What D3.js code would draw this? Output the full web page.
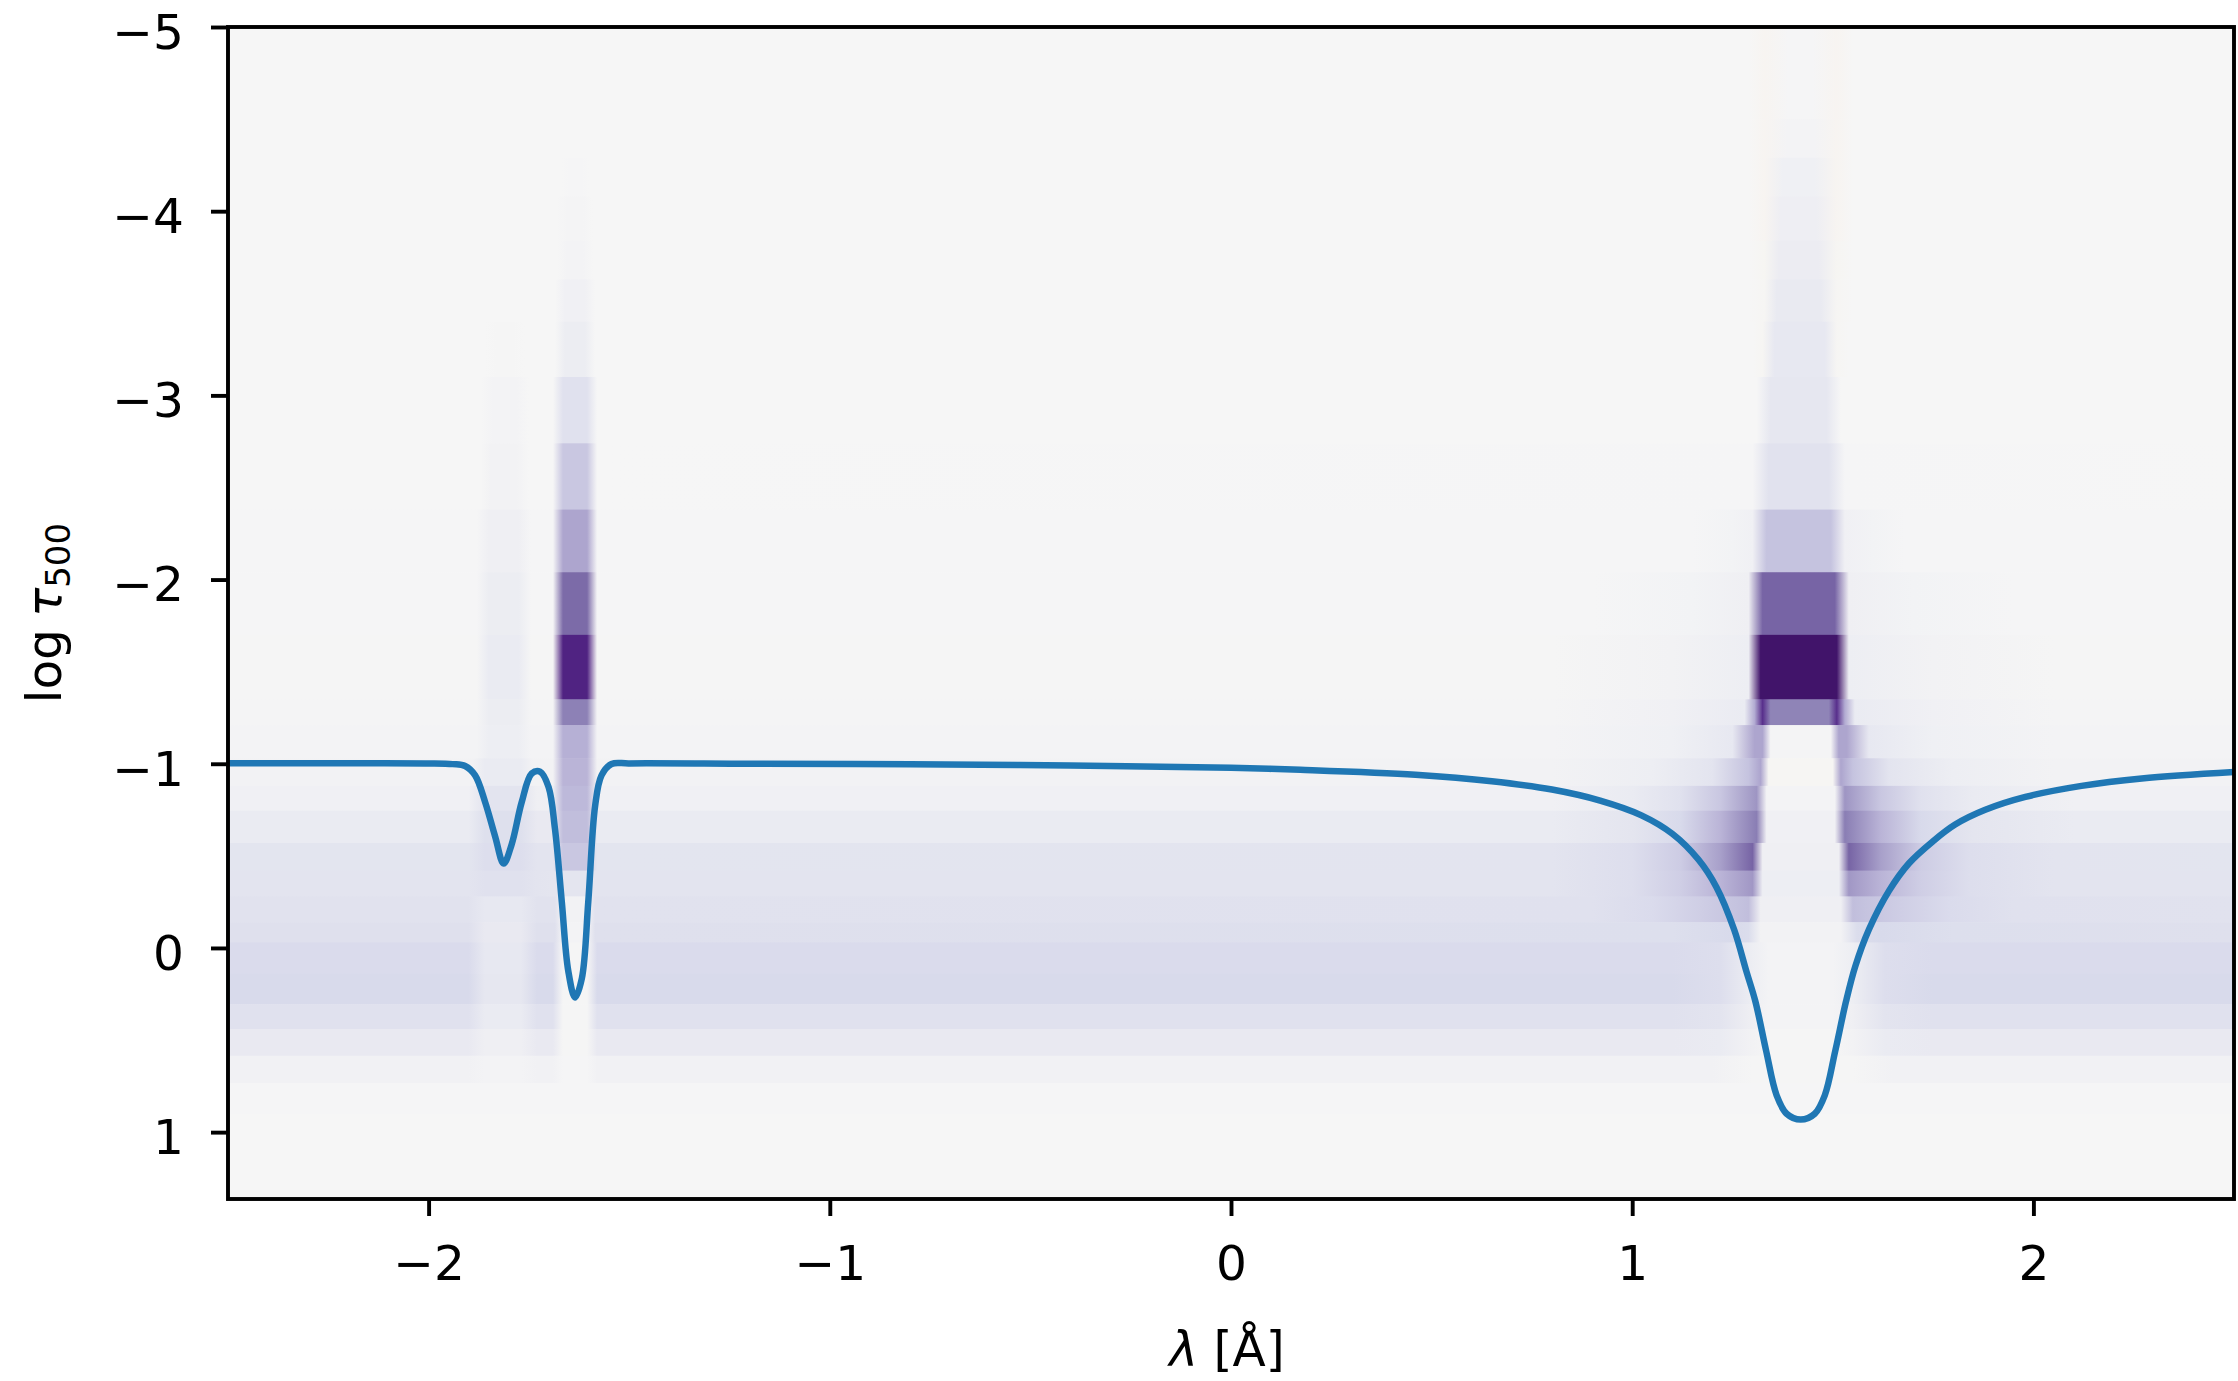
<!DOCTYPE html>
<html><head><meta charset="utf-8">
<script src="https://cdn.jsdelivr.net/npm/d3@7"></script>
<style>
html,body{margin:0;padding:0;background:#fff;}
svg{display:block;}
text{font-family:"DejaVu Sans",sans-serif;fill:#000;}
</style>
</head><body>
<svg id="chart" width="2238" height="1381"></svg>
<script>
// ---------------- data ----------------
const xTicks = [-2, -1, 0, 1, 2];
const yTicks = [-5, -4, -3, -2, -1, 0, 1];
const xDomain = [-2.5, 2.5];
const yDomain = [-5, 1.363];
// PuOr colour scheme, from value -1 (orange) to +1 (purple)
const puorColors = ["#7f3b08","#b35806","#e08214","#fdb863","#fee0b6","#f6f6f6","#d8daeb","#b2abd2","#8073ac","#542788","#2d004b"];

// depth rows (log tau500 edges, top to bottom)
const rowEdges = [-5.0, -4.50, -4.29, -4.08, -3.84, -3.63, -3.40, -3.10, -2.74, -2.38, -2.04, -1.70,
  -1.35, -1.21, -1.03, -0.88, -0.745, -0.57, -0.42, -0.28, -0.14, -0.03, 0.14, 0.305, 0.44, 0.585, 0.733, 0.90, 1.363];

// response values along wavelength for each row: [lambda, value]
const rowStops = [
  [[-2.5,0],[1.29,0],[1.33,-0.015],[1.39,0.008],[1.45,0.008],[1.51,-0.015],[1.55,0],[2.5,0]],
  [[-2.5,0],[1.29,0],[1.33,-0.015],[1.385,0.02],[1.455,0.02],[1.51,-0.015],[1.55,0],[2.5,0]],
  [[-2.5,0],[-1.67,0],[-1.65,0.008],[-1.62,0.008],[-1.60,0],[1.29,0],[1.33,-0.015],[1.375,0.045],[1.455,0.045],[1.51,-0.015],[1.55,0],[2.5,0]],
  [[-2.5,0],[-1.68,0],[-1.655,0.014],[-1.615,0.014],[-1.59,0],[1.29,0],[1.33,-0.015],[1.37,0.055],[1.46,0.055],[1.51,-0.015],[1.55,0],[2.5,0]],
  [[-2.5,0],[-1.68,0],[-1.655,0.022],[-1.615,0.022],[-1.59,0],[1.29,0],[1.33,-0.012],[1.365,0.07],[1.465,0.07],[1.51,-0.012],[1.55,0],[2.5,0]],
  [[-2.5,0],[-1.685,0],[-1.66,0.04],[-1.61,0.04],[-1.585,0],[1.29,0],[1.33,-0.01],[1.36,0.085],[1.47,0.085],[1.51,-0.01],[1.55,0],[2.5,0]],
  [[-2.5,0],[-1.86,0],[-1.83,0.01],[-1.79,0.01],[-1.76,0],[-1.685,0],[-1.66,0.065],[-1.61,0.065],[-1.585,0],[1.30,0],[1.325,-0.008],[1.355,0.1],[1.48,0.1],[1.51,-0.008],[1.54,0],[2.5,0]],
  [[-2.5,0],[-1.87,0],[-1.84,0.02],[-1.78,0.02],[-1.75,0],[-1.69,0],[-1.665,0.15],[-1.605,0.15],[-1.58,0],[1.31,0],[1.345,0.11],[1.485,0.11],[1.52,0],[2.5,0]],
  [[-2.5,0],[-1.87,0],[-1.845,0.03],[-1.78,0.03],[-1.75,0],[-1.69,0],[-1.665,0.28],[-1.605,0.28],[-1.58,0],[1.30,0.005],[1.34,0.14],[1.49,0.14],[1.53,0.005],[2.5,0]],
  [[-2.5,0.005],[-1.88,0.005],[-1.85,0.05],[-1.775,0.05],[-1.745,0.005],[-1.69,0.005],[-1.665,0.42],[-1.605,0.42],[-1.58,0.005],[1.15,0.005],[1.25,0.025],[1.30,0.04],[1.335,0.3],[1.495,0.3],[1.53,0.04],[1.6,0.025],[1.68,0.005],[2.5,0.005]],
  [[-2.5,0.008],[-1.88,0.008],[-1.85,0.065],[-1.775,0.065],[-1.745,0.008],[-1.69,0.008],[-1.665,0.62],[-1.605,0.62],[-1.58,0.008],[0.9,0.008],[1.15,0.025],[1.29,0.05],[1.325,0.64],[1.505,0.64],[1.54,0.05],[1.7,0.025],[1.95,0.008],[2.5,0.008]],
  [[-2.5,0.01],[-1.88,0.01],[-1.85,0.08],[-1.775,0.08],[-1.745,0.01],[-1.69,0.01],[-1.665,0.82],[-1.605,0.82],[-1.58,0.01],[0.8,0.01],[1.1,0.03],[1.29,0.06],[1.32,0.9],[1.51,0.9],[1.54,0.06],[1.75,0.03],[2.05,0.01],[2.5,0.01]],
  [[-2.5,0.015],[-1.88,0.015],[-1.85,0.065],[-1.775,0.065],[-1.745,0.015],[-1.69,0.015],[-1.665,0.55],[-1.605,0.55],[-1.58,0.015],[0.8,0.015],[1.1,0.04],[1.28,0.08],[1.305,0.4],[1.325,0.78],[1.345,0.54],[1.49,0.54],[1.51,0.78],[1.53,0.4],[1.555,0.08],[1.75,0.04],[2.05,0.015],[2.5,0.015]],
  [[-2.5,0.02],[-1.88,0.02],[-1.85,0.06],[-1.775,0.06],[-1.745,0.02],[-1.69,0.02],[-1.665,0.38],[-1.605,0.38],[-1.58,0.02],[0.8,0.02],[1.1,0.045],[1.25,0.1],[1.305,0.42],[1.325,0.42],[1.345,0.015],[1.495,0.015],[1.515,0.42],[1.535,0.42],[1.59,0.1],[1.75,0.045],[2.05,0.02],[2.5,0.02]],
  [[-2.5,0.03],[-1.89,0.03],[-1.86,0.08],[-1.77,0.08],[-1.74,0.03],[-1.69,0.03],[-1.665,0.36],[-1.605,0.36],[-1.58,0.03],[0.8,0.03],[1.05,0.06],[1.2,0.13],[1.29,0.3],[1.32,0.42],[1.34,-0.01],[1.5,-0.01],[1.52,0.42],[1.55,0.3],[1.64,0.13],[1.8,0.06],[2.05,0.03],[2.5,0.03]],
  [[-2.5,0.04],[-1.9,0.04],[-1.86,0.13],[-1.77,0.13],[-1.73,0.05],[-1.69,0.06],[-1.665,0.34],[-1.605,0.34],[-1.58,0.04],[0.8,0.04],[1.0,0.08],[1.12,0.15],[1.22,0.28],[1.31,0.48],[1.335,0.02],[1.505,0.02],[1.53,0.48],[1.62,0.28],[1.72,0.15],[1.85,0.08],[2.1,0.04],[2.5,0.04]],
  [[-2.5,0.08],[-1.9,0.08],[-1.86,0.16],[-1.77,0.16],[-1.73,0.09],[-1.69,0.09],[-1.665,0.32],[-1.605,0.32],[-1.58,0.08],[0.8,0.08],[1.0,0.12],[1.12,0.2],[1.22,0.36],[1.31,0.56],[1.335,0.04],[1.505,0.04],[1.53,0.56],[1.62,0.36],[1.72,0.2],[1.85,0.12],[2.1,0.08],[2.5,0.08]],
  [[-2.5,0.125],[-1.9,0.125],[-1.86,0.17],[-1.77,0.17],[-1.73,0.13],[-1.69,0.13],[-1.665,0.28],[-1.605,0.28],[-1.58,0.125],[0.8,0.13],[1.0,0.17],[1.12,0.26],[1.22,0.44],[1.3,0.64],[1.325,0.05],[1.515,0.05],[1.54,0.64],[1.62,0.44],[1.72,0.26],[1.84,0.17],[2.05,0.13],[2.5,0.125]],
  [[-2.5,0.13],[-1.9,0.13],[-1.86,0.15],[-1.77,0.15],[-1.73,0.13],[-1.69,0.12],[-1.665,0.12],[-1.605,0.12],[-1.58,0.13],[0.8,0.13],[1.0,0.17],[1.12,0.25],[1.22,0.36],[1.3,0.47],[1.325,0.06],[1.515,0.06],[1.54,0.47],[1.62,0.36],[1.72,0.25],[1.84,0.17],[2.05,0.13],[2.5,0.13]],
  [[-2.5,0.14],[-1.9,0.14],[-1.86,0.1],[-1.77,0.1],[-1.73,0.14],[-1.685,0.14],[-1.665,0.03],[-1.605,0.03],[-1.585,0.14],[0.9,0.15],[1.05,0.19],[1.17,0.25],[1.26,0.3],[1.29,0.32],[1.32,0.05],[1.52,0.05],[1.55,0.32],[1.58,0.3],[1.67,0.25],[1.79,0.19],[1.95,0.15],[2.5,0.14]],
  [[-2.5,0.155],[-1.9,0.155],[-1.86,0.09],[-1.77,0.09],[-1.73,0.155],[-1.685,0.155],[-1.665,0.02],[-1.605,0.02],[-1.585,0.155],[1.1,0.165],[1.25,0.2],[1.29,0.18],[1.32,0.03],[1.52,0.03],[1.56,0.18],[1.62,0.2],[1.8,0.165],[2.5,0.155]],
  [[-2.5,0.19],[-1.9,0.19],[-1.86,0.1],[-1.77,0.1],[-1.73,0.19],[-1.69,0.19],[-1.665,0.01],[-1.605,0.01],[-1.58,0.19],[1.1,0.19],[1.22,0.17],[1.3,0.06],[1.34,0.02],[1.5,0.02],[1.55,0.06],[1.63,0.17],[1.75,0.19],[2.5,0.19]],
  [[-2.5,0.2],[-1.9,0.2],[-1.86,0.11],[-1.77,0.11],[-1.73,0.2],[-1.69,0.2],[-1.665,0.01],[-1.605,0.01],[-1.58,0.2],[1.1,0.2],[1.22,0.17],[1.3,0.06],[1.34,0.02],[1.5,0.02],[1.55,0.06],[1.63,0.17],[1.75,0.2],[2.5,0.2]],
  [[-2.5,0.15],[-1.9,0.15],[-1.86,0.08],[-1.77,0.08],[-1.73,0.15],[-1.69,0.15],[-1.665,0.01],[-1.605,0.01],[-1.58,0.15],[1.1,0.15],[1.22,0.13],[1.3,0.05],[1.34,0.02],[1.5,0.02],[1.55,0.05],[1.63,0.13],[1.75,0.15],[2.5,0.15]],
  [[-2.5,0.09],[-1.9,0.09],[-1.86,0.05],[-1.77,0.05],[-1.73,0.09],[-1.69,0.09],[-1.665,0.01],[-1.605,0.01],[-1.58,0.09],[1.1,0.09],[1.22,0.08],[1.3,0.03],[1.34,0.01],[1.5,0.01],[1.55,0.03],[1.63,0.08],[1.75,0.09],[2.5,0.09]],
  [[-2.5,0.035],[-1.9,0.035],[-1.86,0.02],[-1.77,0.02],[-1.73,0.035],[-1.69,0.035],[-1.665,0.005],[-1.605,0.005],[-1.58,0.035],[1.2,0.035],[1.3,0.01],[1.55,0.01],[1.65,0.035],[2.5,0.035]],
  [[-2.5,0.008],[2.5,0.008]],
  [[-2.5,0.002],[2.5,0.002]]
];

// spectral profile drawn on top (in log tau axis units)
const lineLambda = [-2.5,-2.2,-2.0,-1.94,-1.909,-1.884,-1.859,-1.834,-1.813,-1.793,-1.768,-1.743,-1.722,-1.701,-1.685,-1.668,-1.652,-1.635,-1.618,-1.602,-1.585,-1.569,-1.544,-1.5,-1.2,-0.8,-0.4,0,0.173,0.46,0.65,0.8,0.92,1.023,1.1,1.165,1.21,1.254,1.285,1.307,1.334,1.36,1.385,1.42,1.455,1.48,1.506,1.533,1.556,1.59,1.64,1.69,1.75,1.805,1.88,1.98,2.12,2.27,2.5];
const lineLogTau = [-1.003,-1.003,-1.002,-0.998,-0.988,-0.937,-0.791,-0.604,-0.458,-0.562,-0.791,-0.947,-0.957,-0.874,-0.646,-0.251,0.123,0.269,0.165,-0.251,-0.770,-0.937,-0.999,-1.002,-1.0,-0.997,-0.99,-0.978,-0.967,-0.94,-0.905,-0.86,-0.80,-0.72,-0.62,-0.48,-0.33,-0.10,0.13,0.29,0.56,0.80,0.90,0.932,0.90,0.80,0.56,0.29,0.10,-0.10,-0.31,-0.46,-0.58,-0.67,-0.75,-0.82,-0.88,-0.92,-0.955];

// ---------------- drawing ----------------
const plotL = 228, plotR = 2234, plotT = 27, plotB = 1199;
const svg = d3.select("#chart");
const x = d3.scaleLinear().domain(xDomain).range([plotL, plotR]);
const y = d3.scaleLinear().domain(yDomain).range([plotT, plotB]);
const color = d3.scaleLinear()
  .domain(puorColors.map((c, i) => -1 + 2 * i / (puorColors.length - 1)))
  .range(puorColors).clamp(true);
const fmt = d => d < 0 ? "\u2212" + Math.abs(d) : String(d);

const defs = svg.append("defs");
defs.append("clipPath").attr("id", "clip").append("rect")
  .attr("x", plotL).attr("y", plotT).attr("width", plotR - plotL).attr("height", plotB - plotT);

const gx0 = x(xDomain[0]), gx1 = x(xDomain[1]);
rowStops.forEach((stops, i) => {
  const g = defs.append("linearGradient").attr("id", "row" + i)
    .attr("gradientUnits", "userSpaceOnUse")
    .attr("x1", gx0).attr("x2", gx1).attr("y1", 0).attr("y2", 0);
  stops.forEach(([l, v]) => {
    g.append("stop").attr("offset", (x(l) - gx0) / (gx1 - gx0)).attr("stop-color", color(v));
  });
});

const heat = svg.append("g").attr("clip-path", "url(#clip)");
heat.selectAll("rect").data(rowStops).join("rect")
  .attr("x", gx0).attr("width", gx1 - gx0)
  .attr("y", (d, i) => y(rowEdges[i]))
  .attr("height", (d, i) => y(rowEdges[i + 1]) - y(rowEdges[i]) + 0.6)
  .attr("fill", (d, i) => `url(#row${i})`);

// profile line
const pts = lineLambda.map((l, i) => [l, lineLogTau[i]]);
svg.append("path").attr("clip-path", "url(#clip)")
  .datum(pts)
  .attr("fill", "none").attr("stroke", "#1f77b4").attr("stroke-width", 6.5)
  .attr("stroke-linejoin", "round").attr("stroke-linecap", "butt")
  .attr("d", d3.line().x(d => x(d[0])).y(d => y(d[1])).curve(d3.curveCatmullRom.alpha(0.5)));

// axes
const xAxis = svg.append("g").attr("transform", `translate(0,${plotB})`)
  .call(d3.axisBottom(x).tickValues(xTicks).tickFormat(fmt).tickSize(17).tickPadding(29));
const yAxis = svg.append("g").attr("transform", `translate(${plotL},0)`)
  .call(d3.axisLeft(y).tickValues(yTicks).tickFormat(fmt).tickSize(17).tickPadding(27));
[xAxis, yAxis].forEach(a => {
  a.select(".domain").remove();
  a.selectAll(".tick line").attr("stroke", "#000").attr("stroke-width", 3.9);
  a.selectAll(".tick text").attr("font-size", 48.6).attr("font-family", "DejaVu Sans").attr("fill", "#000");
});
yAxis.selectAll(".tick text").attr("dy", "0.44em");

// spines
svg.append("rect").attr("x", plotL).attr("y", plotT).attr("width", plotR - plotL).attr("height", plotB - plotT)
  .attr("fill", "none").attr("stroke", "#000").attr("stroke-width", 3.9);

// labels
const xl = svg.append("text").attr("x", (plotL + plotR) / 2 - 4).attr("y", 1366)
  .attr("text-anchor", "middle").attr("font-size", 48.6);
xl.append("tspan").attr("font-style", "italic").text("λ");
xl.append("tspan").text(" [Å]");

const yl = svg.append("text").attr("transform", `translate(61,${(plotT + plotB) / 2}) rotate(-90)`)
  .attr("text-anchor", "middle").attr("font-size", 48.6);
yl.append("tspan").text("log");
yl.append("tspan").attr("dx", 12).attr("font-style", "italic").text("τ");
yl.append("tspan").attr("dy", 9).attr("font-size", 34).text("500");
</script>
</body></html>
